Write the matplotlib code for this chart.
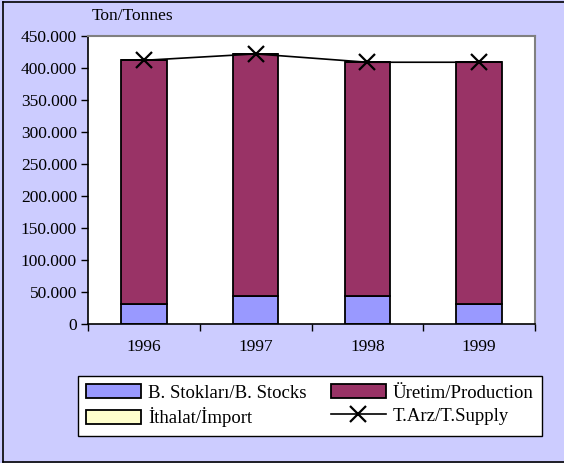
import matplotlib
matplotlib.use("Agg")
import matplotlib.pyplot as plt
from matplotlib.lines import Line2D
import numpy as np

years = ["1996", "1997", "1998", "1999"]
stocks = [31000, 43000, 43000, 31000]
production = [381000, 379000, 366000, 378000]
imports = [0, 0, 0, 0]
supply = [412000, 422000, 409000, 409000]

plt.rcParams["font.family"] = ["Liberation Serif", "DejaVu Serif"]
plt.rcParams["font.size"] = 12.5

W, H = 564, 463
fig = plt.figure(figsize=(W / 100, H / 100), dpi=100, facecolor="#CCCCFF")

# outer frame (left, top, bottom)
fig.add_artist(Line2D([3 / W, 3 / W], [1 / H, 1 - 2 / H], color="black", lw=1.2))
fig.add_artist(Line2D([3 / W, 1], [1 - 2 / H, 1 - 2 / H], color="black", lw=1.2))
fig.add_artist(Line2D([3 / W, 1], [1 / H, 1 / H], color="black", lw=1.2))

ax = fig.add_axes([88 / W, (H - 324) / H, (535 - 88) / W, (324 - 36) / H])
ax.set_facecolor("white")

x = np.arange(len(years))
bw = 0.405
b1 = ax.bar(x, stocks, bw, color="#9999FF", edgecolor="black", lw=1.3)
b2 = ax.bar(x, production, bw, bottom=stocks, color="#993366", edgecolor="black", lw=1.3)
base = np.array(stocks) + np.array(production)
b3 = ax.bar(x, imports, bw, bottom=base, color="#FFFFCC", edgecolor="black", lw=1.3)
ln, = ax.plot(x, supply, color="black", lw=1.2, marker="x", ms=11, mew=1.6)

ax.set_xlim(-0.5, 3.5)
ax.set_ylim(0, 450000)
ax.set_yticks(np.arange(0, 450001, 50000))
ax.set_yticklabels(["0"] + [f"{v // 1000}.000" for v in range(50000, 450001, 50000)])
ax.set_xticks(x)
ax.set_xticklabels(years)
ax.set_xticks(np.arange(-0.5, 4.0, 1.0), minor=True)
ax.tick_params(axis="x", which="major", length=0, pad=11)
ax.tick_params(axis="x", which="minor", length=5, direction="out", width=1)
ax.tick_params(axis="y", length=5, direction="out", width=1, pad=3)

for s in ["top", "right"]:
    ax.spines[s].set_color("#808080")
    ax.spines[s].set_linewidth(1.5)
for s in ["left", "bottom"]:
    ax.spines[s].set_color("black")
    ax.spines[s].set_linewidth(1.2)

fig.text(92 / W, 1 - 16 / H, "Ton/Tonnes", ha="left", va="center", fontsize=12.5)

leg = fig.legend(
    [b1, b3, b2, ln],
    ["B. Stoklar\u0131/B. Stocks", "\u0130thalat/\u0130mport",
     "\u00dcretim/Production", "T.Arz/T.Supply"],
    ncol=2, loc="upper left", fontsize=13.5,
    bbox_to_anchor=(78 / W, 1 - 376 / H), bbox_transform=fig.transFigure,
    frameon=True, fancybox=False, framealpha=1, edgecolor="black",
    handlelength=2.9, handleheight=0.75, handletextpad=0.4,
    columnspacing=1.3, labelspacing=0.3, borderpad=0.45, borderaxespad=0,
)
leg.get_frame().set_linewidth(1.0)

fig.savefig("out.png", dpi=100, facecolor=fig.get_facecolor())
